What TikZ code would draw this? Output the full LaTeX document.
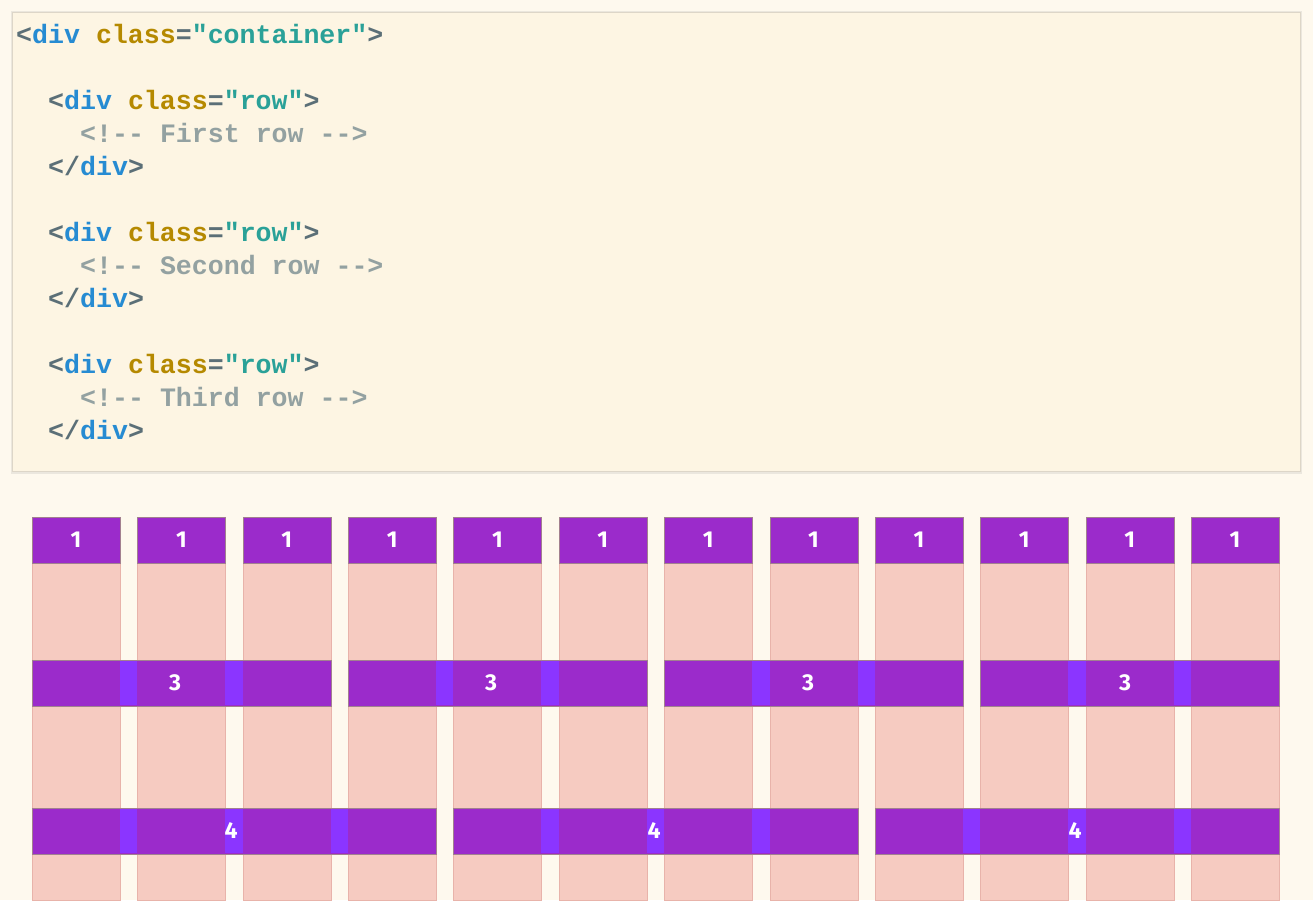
\documentclass[tikz,border=0pt]{standalone}
\usepackage{fontspec}
\setmonofont{Liberation Mono}
\newfontfamily\numfont{Fira Sans}
\definecolor{pagebg}{HTML}{FEF9EE}
\definecolor{codebg}{HTML}{FDF5E3}
\definecolor{codeedge}{HTML}{DDD6C8}
\definecolor{brk}{HTML}{5B6F77}
\definecolor{tagn}{HTML}{268BD2}
\definecolor{attr}{HTML}{B58900}
\definecolor{strc}{HTML}{2AA198}
\definecolor{cmt}{HTML}{93A1A1}
\definecolor{pinkc}{HTML}{F6CBC1}
\definecolor{pinkedge}{HTML}{E8B3AA}
\definecolor{purp}{HTML}{9B2BCB}
\definecolor{purpedge}{HTML}{A2808F}
\definecolor{gutp}{HTML}{8B35FF}
\tikzset{
  codeline/.style={anchor=mid west, inner sep=0pt, font=\ttfamily\bfseries\fontsize{26.6}{30}\selectfont},
  colbox/.style={anchor=north west, inner sep=0pt, minimum width=88pt, minimum height=337pt, fill=pinkc, draw=pinkedge, line width=0.8pt},
  onebox/.style={anchor=north west, inner sep=0pt, minimum width=88pt, minimum height=46pt, fill=purp, draw=purpedge, line width=0.8pt},
  barbox/.style={anchor=north west, inner sep=0pt, minimum height=46pt, fill=purp, draw=purpedge, line width=0.8pt},
  numlab/.style={text=white, font=\numfont\bfseries\fontsize{23}{26}\selectfont, inner sep=0pt}
}
\newcommand{\Br}[1]{{\color{brk}#1}}
\newcommand{\Tn}[1]{{\color{tagn}#1}}
\newcommand{\At}[1]{{\color{attr}#1}}
\newcommand{\St}[1]{{\color{strc}#1}}
\newcommand{\Cm}[1]{{\color{cmt}#1}}
\begin{document}
\begin{tikzpicture}[x=1pt,y=-1pt]
\useasboundingbox (0,0) rectangle (1313,900);
\fill[pagebg] (0,0) rectangle (1313,900);
% code panel
\fill[codeedge!60] (11,11) rectangle (1302,474);
\node[anchor=north west, inner sep=0pt, minimum width=1288pt, minimum height=459pt, fill=codebg, draw=codeedge, line width=0.8pt] (panel) at (12,12) {};
\node[codeline] (l1) at (16,41) {\Br{<}\Tn{div} \At{class}\Br{=}\St{"container"}\Br{>}};
\node[codeline] (l2) at (48,107) {\Br{<}\Tn{div} \At{class}\Br{=}\St{"row"}\Br{>}};
\node[codeline] (l3) at (80,140) {\Cm{<!{-}{-} First row {-}{-}>}};
\node[codeline] (l4) at (48,173) {\Br{</}\Tn{div}\Br{>}};
\node[codeline] (l5) at (48,239) {\Br{<}\Tn{div} \At{class}\Br{=}\St{"row"}\Br{>}};
\node[codeline] (l6) at (80,272) {\Cm{<!{-}{-} Second row {-}{-}>}};
\node[codeline] (l7) at (48,305) {\Br{</}\Tn{div}\Br{>}};
\node[codeline] (l8) at (48,371) {\Br{<}\Tn{div} \At{class}\Br{=}\St{"row"}\Br{>}};
\node[codeline] (l9) at (80,404) {\Cm{<!{-}{-} Third row {-}{-}>}};
\node[codeline] (l10) at (48,437) {\Br{</}\Tn{div}\Br{>}};
% grid columns
\foreach \i in {0,...,11} {
  \node[colbox] (c\i) at ({32+\i*105.36},563) {};
  \node[onebox] (o\i) at ({32+\i*105.36},517) {};
  \node[numlab] (t\i) at ({76+\i*105.36},540) {1};
}
% span-3 bars
\foreach \g/\lx in {0/175,1/491,2/808,3/1125} {
  \pgfmathsetmacro{\xs}{32+3*\g*105.36}
  \node[barbox, minimum width=298.72pt] (b\g) at (\xs,660) {};
  \foreach \k in {0,1} {
    \fill[gutp] ({\xs+88+\k*105.36},660.6) rectangle ({\xs+105.36+\k*105.36},705.4);
  }
  \node[numlab] (bl\g) at (\lx,683) {3};
}
% span-4 bars
\foreach \g/\lx in {0/231,1/654,2/1075} {
  \pgfmathsetmacro{\xs}{32+4*\g*105.36}
  \node[barbox, minimum width=404.08pt] (f\g) at (\xs,808) {};
  \foreach \k in {0,1,2} {
    \fill[gutp] ({\xs+88+\k*105.36},808.6) rectangle ({\xs+105.36+\k*105.36},853.4);
  }
  \node[numlab] (fl\g) at (\lx,831) {4};
}
\end{tikzpicture}
\end{document}
